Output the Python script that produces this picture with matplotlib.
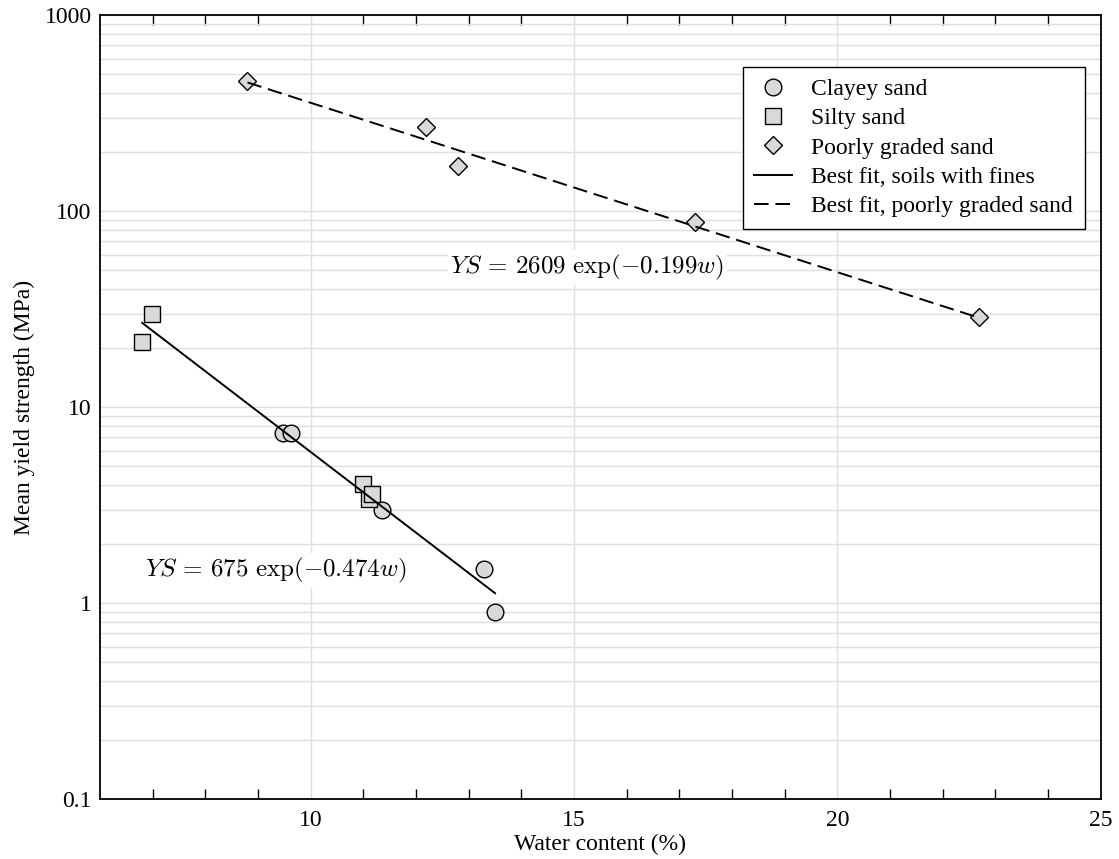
import numpy as np
import matplotlib
matplotlib.use("Agg")
import matplotlib.pyplot as plt
from matplotlib.ticker import FixedLocator, NullFormatter, LogLocator

plt.rcParams['font.family'] = ['Liberation Serif', 'DejaVu Serif']
plt.rcParams['mathtext.fontset'] = 'cm'

# Clayey sand samples (water content %, mean yield strength MPa)
clayey_w = [9.48, 9.62, 11.35, 13.30, 13.50]
clayey_ys = [7.4, 7.4, 3.0, 1.5, 0.90]

# Silty sand samples
silty_w = [6.79, 6.99, 10.99, 11.10, 11.16]
silty_ys = [21.5, 30.0, 4.03, 3.41, 3.59]

# Poorly graded sand samples
pgs_w = [8.79, 12.19, 12.80, 17.30, 22.69]
pgs_ys = [459, 267, 169, 87.6, 28.7]

# Exponential fits YS = a * exp(b * w)
fines_fit = (675, -0.474)
fines_range = (6.8, 13.5)
pgs_fit = (2609, -0.199)
pgs_range = (8.8, 22.7)

x_major = [10, 15, 20, 25]
x_minor = [7, 8, 9, 11, 12, 13, 14, 16, 17, 18, 19, 21, 22, 23, 24]
y_major = [0.1, 1, 10, 100, 1000]
y_labels = ['0.1', '1', '10', '100', '1000']

fig = plt.figure(figsize=(11.19, 8.59), dpi=100)
ax = fig.add_axes([0.0894, 0.0698, 0.8942, 0.9127])

face = '#d9d9d9'
ax.plot(clayey_w, clayey_ys, 'o', ms=12, mfc=face, mec='black', mew=1.0,
        label='Clayey sand', zorder=4)
ax.plot(silty_w, silty_ys, 's', ms=11, mfc=face, mec='black', mew=1.0,
        label='Silty sand', zorder=4)
ax.plot(pgs_w, pgs_ys, 'D', ms=9, mfc=face, mec='black', mew=1.0,
        label='Poorly graded sand', zorder=4)

wf = np.linspace(*fines_range, 50)
ax.plot(wf, fines_fit[0] * np.exp(fines_fit[1] * wf), '-', color='black', lw=1.4,
        label='Best fit, soils with fines', zorder=5)
wp = np.linspace(*pgs_range, 50)
ax.plot(wp, pgs_fit[0] * np.exp(pgs_fit[1] * wp), color='black', lw=1.4,
        dashes=(7.5, 3.5), label='Best fit, poorly graded sand', zorder=5)

ax.set_yscale('log')
ax.set_xlim(6, 25)
ax.set_ylim(0.1, 1000)

ax.xaxis.set_major_locator(FixedLocator(x_major))
ax.xaxis.set_minor_locator(FixedLocator(x_minor))
ax.yaxis.set_major_locator(FixedLocator(y_major))
ax.yaxis.set_minor_locator(LogLocator(base=10, subs=np.arange(2, 10)))
ax.yaxis.set_minor_formatter(NullFormatter())
ax.set_yticklabels(y_labels)
ax.set_xticklabels([str(v) for v in x_major])

ax.tick_params(axis='x', which='major', length=0, labelsize=17, pad=8)
ax.tick_params(axis='x', which='minor', length=7, width=1.0, direction='in',
               top=True, bottom=True)
ax.tick_params(axis='y', which='both', length=0, labelsize=17, pad=6)

ax.grid(True, axis='x', which='major', color='#dedede', lw=1.0, zorder=0)
ax.grid(True, axis='y', which='both', color='#dedede', lw=1.0, zorder=0)
ax.set_axisbelow(True)

for s in ax.spines.values():
    s.set_linewidth(1.3)

ax.set_xlabel('Water content (%)', fontsize=17, labelpad=2)
ax.set_ylabel('Mean yield strength (MPa)', fontsize=17, labelpad=7)

bbox = dict(facecolor='white', edgecolor='none', pad=2)
ax.text(6.85, 1.47, r'$YS\,=\,675\ \exp(-0.474w)$', fontsize=18, va='center',
        ha='left', bbox=bbox, zorder=3)
ax.text(12.65, 51.6, r'$YS\,=\,2609\ \exp(-0.199w)$', fontsize=18, va='center',
        ha='left', bbox=bbox, zorder=3)

leg = ax.legend(loc='upper right', bbox_to_anchor=(0.984, 0.934), borderaxespad=0,
                fontsize=17, frameon=True, fancybox=False, framealpha=1,
                edgecolor='black', handlelength=1.6, handletextpad=0.8,
                labelspacing=0.33, borderpad=0.5)
leg.get_frame().set_linewidth(1.0)

fig.savefig('out.png', dpi=100)
